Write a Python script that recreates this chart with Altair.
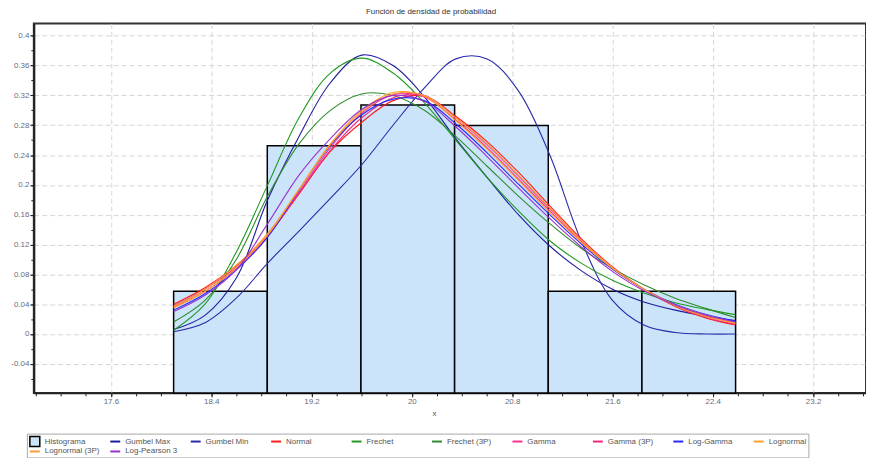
import altair as alt
import pandas as pd

TITLE = "Función de densidad de probabilidad"
X_TITLE = "x"

# Histogram (bin edges and density heights)
bin_edges = [18.100, 18.847, 19.594, 20.341, 21.088, 21.835, 22.582]
bin_density = [0.0573, 0.2525, 0.3070, 0.2796, 0.0573, 0.0573]

# Points at which the fitted curves were read
x_pts = [18.10, 18.35, 18.60, 18.85, 19.10, 19.35, 19.60, 19.85, 20.10, 20.35,
         20.60, 20.85, 21.10, 21.35, 21.60, 21.85, 22.10, 22.35, 22.58]

gumbel_max = [0.006, 0.025, 0.075, 0.180, 0.265, 0.337, 0.374, 0.360, 0.318, 0.262,
              0.210, 0.160, 0.118, 0.085, 0.060, 0.043, 0.032, 0.024, 0.018]
gumbel_min = [0.003, 0.015, 0.048, 0.095, 0.138, 0.182, 0.227, 0.280, 0.330, 0.369,
              0.369, 0.326, 0.240, 0.125, 0.045, 0.012, 0.002, 0.000, 0.000]
normal = [0.040, 0.062, 0.092, 0.132, 0.188, 0.245, 0.284, 0.313, 0.319, 0.292,
          0.258, 0.217, 0.172, 0.128, 0.090, 0.060, 0.037, 0.021, 0.012]
frechet = [0.005, 0.040, 0.110, 0.200, 0.290, 0.350, 0.370, 0.350, 0.310, 0.260,
           0.210, 0.165, 0.125, 0.095, 0.072, 0.055, 0.042, 0.033, 0.026]
frechet_3p = [0.016, 0.045, 0.100, 0.185, 0.255, 0.300, 0.322, 0.320, 0.300, 0.265,
              0.225, 0.185, 0.148, 0.115, 0.088, 0.066, 0.048, 0.034, 0.022]
gamma = [0.036, 0.057, 0.088, 0.131, 0.190, 0.250, 0.296, 0.321, 0.318, 0.287,
         0.250, 0.208, 0.165, 0.124, 0.088, 0.060, 0.039, 0.024, 0.015]
gamma_3p = [0.038, 0.060, 0.090, 0.132, 0.189, 0.246, 0.290, 0.317, 0.320, 0.290,
            0.254, 0.212, 0.168, 0.126, 0.089, 0.060, 0.038, 0.022, 0.013]
log_gamma = [0.032, 0.054, 0.086, 0.130, 0.193, 0.253, 0.294, 0.315, 0.313, 0.282,
             0.243, 0.201, 0.160, 0.121, 0.087, 0.060, 0.040, 0.026, 0.017]
lognormal = [0.035, 0.057, 0.089, 0.133, 0.194, 0.255, 0.300, 0.324, 0.319, 0.286,
             0.248, 0.206, 0.163, 0.123, 0.088, 0.060, 0.039, 0.025, 0.015]
lognormal_3p = [0.037, 0.060, 0.092, 0.135, 0.194, 0.254, 0.298, 0.322, 0.320, 0.290,
                0.255, 0.213, 0.169, 0.126, 0.089, 0.060, 0.038, 0.023, 0.014]
log_pearson3 = [0.030, 0.052, 0.086, 0.148, 0.213, 0.262, 0.301, 0.320, 0.312, 0.278,
                0.238, 0.196, 0.155, 0.117, 0.084, 0.058, 0.039, 0.025, 0.016]

series_names = ["Gumbel Max", "Gumbel Min", "Normal", "Frechet", "Frechet (3P)",
                "Gamma", "Gamma (3P)", "Log-Gamma", "Lognormal", "Lognormal (3P)",
                "Log-Pearson 3"]
series_values = [gumbel_max, gumbel_min, normal, frechet, frechet_3p, gamma,
                 gamma_3p, log_gamma, lognormal, lognormal_3p, log_pearson3]
series_colors = ["#1c1c9c", "#2a2aa8", "#ff1c1c", "#1f9a1f", "#2e8b2e",
                 "#ff2f8f", "#f0287f", "#2a2aff", "#ff9f2f", "#ff9933", "#9932cc"]
HIST_NAME = "Histograma"
HIST_FILL = "#cce4fa"

x_major = [17.6, 18.4, 19.2, 20.0, 20.8, 21.6, 22.4, 23.2]
x_minor = [17.0, 17.2, 17.4, 17.6, 17.8, 18.0, 18.2, 18.4, 18.6, 18.8, 19.0, 19.2,
           19.4, 19.6, 19.8, 20.0, 20.2, 20.4, 20.6, 20.8, 21.0, 21.2, 21.4, 21.6,
           21.8, 22.0, 22.2, 22.4, 22.6, 22.8, 23.0, 23.2, 23.4, 23.6]
y_major = [-0.04, 0.0, 0.04, 0.08, 0.12, 0.16, 0.20, 0.24, 0.28, 0.32, 0.36, 0.40]
y_minor = [-0.06, -0.04, -0.02, 0.0, 0.02, 0.04, 0.06, 0.08, 0.10, 0.12, 0.14, 0.16,
           0.18, 0.20, 0.22, 0.24, 0.26, 0.28, 0.30, 0.32, 0.34, 0.36, 0.38, 0.40]

X_DOMAIN = [16.985, 23.622]
Y_DOMAIN = [-0.079, 0.4165]

hist_df = pd.DataFrame({
    "x0": bin_edges[:-1],
    "x1": bin_edges[1:],
    "d": bin_density,
    "hist": [HIST_NAME] * len(bin_density),
})

rows = []
for name, vals in zip(series_names, series_values):
    for xv, yv in zip(x_pts, vals):
        rows.append({"serie": name, "x": xv, "v": yv})
lines_df = pd.DataFrame(rows)

FONT = "Liberation Sans"
LABEL_COLOR = "#6a6a7a"
NUM_LABEL = "replace(format(datum.value, '~g'), '\u2212', '-')"

x_scale = alt.Scale(domain=X_DOMAIN, nice=False, zero=False)
y_scale = alt.Scale(domain=Y_DOMAIN, nice=False, zero=False)

x_axis = alt.Axis(
    orient="bottom", values=x_major, labelExpr=NUM_LABEL,
    labelOverlap=False, labelFlush=False,
    grid=True, gridDash=[5, 3], gridColor="#d6d6d6",
    tickSize=4, tickColor="#222", domainColor="#222", domainWidth=2,
    labelFont=FONT, labelFontSize=8, labelColor=LABEL_COLOR, labelPadding=1,
    title=X_TITLE, titleFont=FONT, titleFontSize=8, titleFontWeight="normal",
    titleColor="#555", titleX=403, titleY=21, titleBaseline="middle",
)
y_axis = alt.Axis(
    orient="left", values=y_major, labelExpr=NUM_LABEL,
    labelOverlap=False, labelFlush=False,
    grid=True, gridDash=[5, 3], gridColor="#d6d6d6",
    tickSize=4, tickColor="#222", domainColor="#222", domainWidth=2,
    labelFont=FONT, labelFontSize=8, labelColor=LABEL_COLOR, labelPadding=1,
    title=None,
)
x_minor_axis = alt.Axis(orient="bottom", values=x_minor, labels=False, grid=False,
                        domain=False, tickSize=3, tickColor="#222", title=None)
y_minor_axis = alt.Axis(orient="left", values=y_minor, labels=False, grid=False,
                        domain=False, tickSize=3, tickColor="#222", title=None)

LEG_X, LEG_Y = -7, 413
common_leg = dict(orient="none", legendX=LEG_X, legendY=LEG_Y, direction="horizontal",
                  columns=10, title=None, padding=2, rowPadding=0, columnPadding=6,
                  gridAlign="all", symbolSize=100, labelFont=FONT, labelFontSize=8,
                  labelColor="#555", symbolOffset=0)

hist = alt.Chart(hist_df).mark_rect(stroke="black", strokeWidth=1.5).encode(
    x=alt.X("x0:Q", scale=x_scale, axis=x_axis),
    x2="x1:Q",
    y=alt.Y("d:Q", scale=y_scale, axis=y_axis),
    y2=alt.datum(Y_DOMAIN[0]),
    fill=alt.Fill("hist:N", scale=alt.Scale(domain=[HIST_NAME], range=[HIST_FILL]),
                  legend=alt.Legend(symbolType="square", symbolStrokeColor="black",
                                    symbolStrokeWidth=1.5, labelExpr="''", **common_leg)),
)

minor_ticks = alt.Chart(hist_df).mark_rect(opacity=0).encode(
    x=alt.X("x0:Q", scale=x_scale, axis=x_minor_axis),
    x2="x1:Q",
    y=alt.Y("d:Q", scale=y_scale, axis=y_minor_axis),
)

lines = alt.Chart(lines_df).mark_line(strokeWidth=1.1, interpolate="catmull-rom").encode(
    x=alt.X("x:Q", scale=x_scale, axis=None),
    y=alt.Y("v:Q", scale=y_scale, axis=None),
    color=alt.Color("serie:N",
                    scale=alt.Scale(domain=[HIST_NAME] + series_names,
                                    range=["transparent"] + series_colors),
                    legend=alt.Legend(symbolType="stroke", symbolStrokeWidth=2,
                                      strokeColor="#a8a8a8", **common_leg)),
)

chart = alt.layer(hist, minor_ticks, lines).resolve_axis(
    x="independent", y="independent"
).properties(
    width=838, height=372,
    title=alt.TitleParams(TITLE, font=FONT, fontSize=8, fontWeight="normal", color="#333",
                          anchor="middle", frame="group", dx=-19, offset=0,
                          baseline="bottom", limit=700),
    padding={"left": 26, "top": 14, "right": 0, "bottom": 64},
    autosize=alt.AutoSizeParams(type="none"),
).configure_view(stroke="#333", strokeWidth=2)

chart.save("out.html", embed_options={"renderer": "svg", "actions": False})
